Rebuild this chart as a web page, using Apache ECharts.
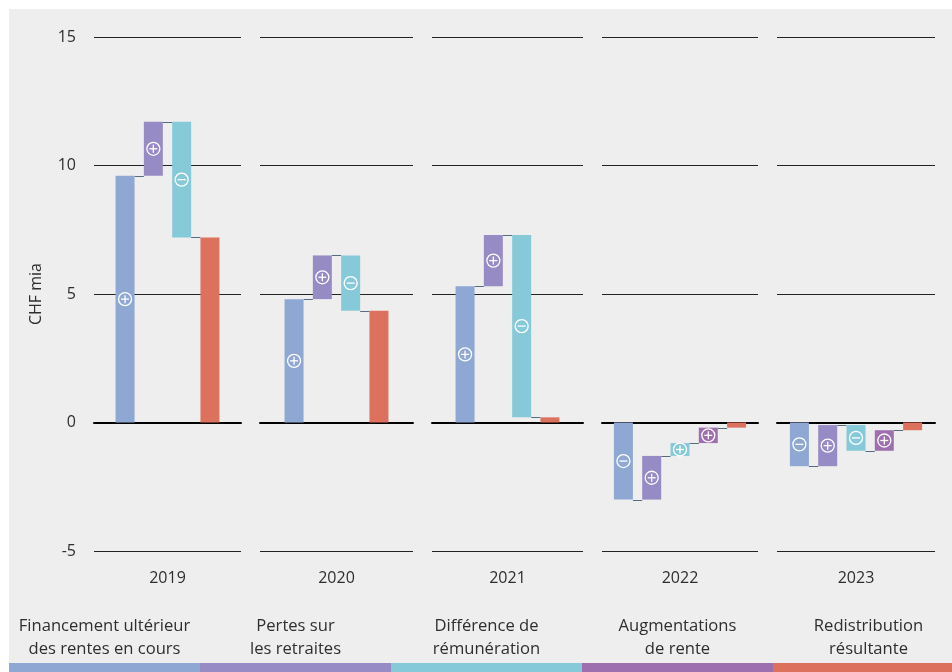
<!DOCTYPE html>
<html>
<head>
<meta charset="utf-8">
<script src="https://cdn.jsdelivr.net/npm/echarts@6/dist/echarts.min.js"></script>
<style>
html,body{margin:0;padding:0;background:#fff;}
#chart{width:952px;height:672px;}
</style>
</head>
<body>
<div id="chart"></div>
<script>
// ---- Data ----
const years = ['2019', '2020', '2021', '2022', '2023'];
const components = [
  'Financement ultérieur\ndes rentes en cours',
  'Pertes sur\nles retraites',
  'Différence de\nrémunération',
  'Augmentations\nde rente',
  'Redistribution\nrésultante'
];
const financement    = [9.6, 4.8, 5.3, -3.0, -1.7];
const pertes         = [2.1, 1.7, 2.0, 1.7, 1.6];
const remuneration   = [-4.5, -2.15, -7.1, 0.5, -1.0];
const augmentations  = [null, null, null, 0.6, 0.8];
const redistribution = [7.2, 4.35, 0.2, -0.2, -0.3];
const yTicks = [-5, 0, 5, 10, 15];
const colors = ['#8ea7d3', '#968bc4', '#86cad9', '#9e6fae', '#dc715e'];

// ---- Layout ----
const FONT = '"Open Sans", sans-serif';
const TEXT = '#2e2e2e';
const gridLefts  = [94, 260, 432, 602, 777];
const gridWidths = [147, 153, 151, 156, 158];
const gridTop = 37, gridHeight = 514;
const step = 28.3;   // px per slot
const barW = 19;

const grids = [], xAxes = [], yAxes = [], series = [];

years.forEach((yr, g) => {
  const deltas = [financement[g], pertes[g], remuneration[g], augmentations[g]];
  const items = [];
  let cum = 0, pos = 0;
  deltas.forEach((d, c) => {
    if (d === null || d === undefined) return;
    const start = cum, end = cum + d;
    items.push([pos, start, end, c, 1, d > 0 ? 1 : -1]);
    cum = end; pos++;
  });
  items.push([pos, 0, redistribution[g], 4, 0, 0]);
  const n = pos + 1;
  const half = gridWidths[g] / (2 * step);
  const c0 = (n - 1) / 2;

  grids.push({left: gridLefts[g], width: gridWidths[g], top: gridTop, height: gridHeight, containLabel: false});
  xAxes.push({
    type: 'value', gridIndex: g, min: c0 - half, max: c0 + half, position: 'bottom',
    axisLine: {show: true, onZero: true, lineStyle: {color: '#000', width: 2}},
    axisTick: {show: false}, axisLabel: {show: false}, splitLine: {show: false}
  });
  xAxes.push({
    type: 'value', gridIndex: g, min: c0 - half, max: c0 + half, position: 'bottom',
    axisLine: {show: false, onZero: false},
    axisTick: {show: false}, axisLabel: {show: false}, splitLine: {show: false},
    name: yr, nameLocation: 'middle', nameGap: 19,
    nameTextStyle: {fontFamily: FONT, fontSize: 16, color: TEXT}
  });
  yAxes.push({
    type: 'value', gridIndex: g,
    min: yTicks[0], max: yTicks[yTicks.length - 1], interval: yTicks[1] - yTicks[0],
    axisLine: {show: false}, axisTick: {show: false},
    axisLabel: {show: g === 0, margin: 18, fontFamily: FONT, fontSize: 16, color: TEXT},
    splitLine: {show: true, lineStyle: {color: '#222', width: 1}},
    name: g === 0 ? 'CHF mia' : '', nameLocation: 'middle', nameGap: 50, nameRotate: 90,
    nameTextStyle: {fontFamily: FONT, fontSize: 16, color: TEXT}
  });
  series.push({
    type: 'custom', xAxisIndex: 2 * g, yAxisIndex: g, z: 5,
    encode: {x: 0, y: [1, 2]},
    data: items,
    renderItem: function (params, api) {
      const x = api.value(0), lo = api.value(1), hi = api.value(2);
      const ci = api.value(3), hasNext = api.value(4), sign = api.value(5);
      const p1 = api.coord([x, lo]), p2 = api.coord([x, hi]);
      const top = Math.min(p1[1], p2[1]);
      const h = Math.max(Math.abs(p1[1] - p2[1]), 1);
      const children = [];
      if (hasNext) {
        const pn = api.coord([x + 1, hi]);
        children.push({
          type: 'line', z2: 1,
          shape: {x1: p2[0] + barW / 2, y1: Math.round(p2[1]) + 0.5, x2: pn[0] - barW / 2, y2: Math.round(p2[1]) + 0.5},
          style: {stroke: '#566d80', lineWidth: 1}
        });
      }
      children.push({
        type: 'rect', z2: 2,
        shape: {x: p1[0] - barW / 2, y: top, width: barW, height: h},
        style: {fill: colors[ci]}
      });
      if (sign !== 0) {
        const cx = p1[0], cy = (p1[1] + p2[1]) / 2, r = 6.5, a = 4;
        children.push({type: 'circle', z2: 3, shape: {cx: cx, cy: cy, r: r},
          style: {fill: 'none', stroke: '#fff', lineWidth: 1.3}});
        children.push({type: 'line', z2: 3, shape: {x1: cx - a, y1: cy, x2: cx + a, y2: cy},
          style: {stroke: '#fff', lineWidth: 1.3}});
        if (sign > 0) {
          children.push({type: 'line', z2: 3, shape: {x1: cx, y1: cy - a, x2: cx, y2: cy + a},
            style: {stroke: '#fff', lineWidth: 1.3}});
        }
      }
      return {type: 'group', children: children};
    }
  });
});

// ---- Bottom legend strips & labels ----
const legendW = 191, legendX0 = 9;
const graphics = [{
  type: 'rect', z: -100, silent: true,
  shape: {x: 9, y: 9, width: 943, height: 663},
  style: {fill: '#eeeeee'}
}];
components.forEach((name, i) => {
  const x = legendX0 + i * legendW;
  graphics.push({
    type: 'rect', z: 10, silent: true,
    shape: {x: x, y: 663, width: legendW, height: 9},
    style: {fill: colors[i]}
  });
  graphics.push({
    type: 'text', z: 10, silent: true,
    x: x + legendW / 2, y: 615,
    style: {text: name, fontFamily: FONT, fontSize: 16.6, fill: TEXT,
      align: 'center', verticalAlign: 'top', lineHeight: 23}
  });
});

const chart = echarts.init(document.getElementById('chart'), null, {renderer: 'canvas'});
chart.setOption({
  backgroundColor: '#ffffff',
  animation: false,
  grid: grids,
  xAxis: xAxes,
  yAxis: yAxes,
  series: series,
  graphic: graphics
});
</script>
</body>
</html>
